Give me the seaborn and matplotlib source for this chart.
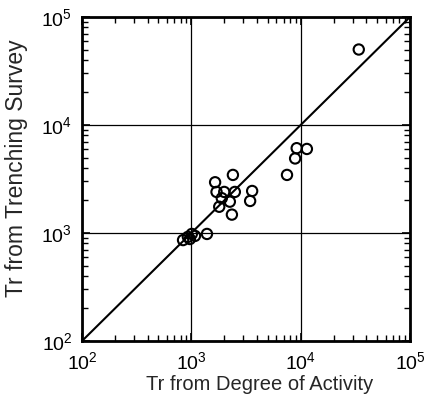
import matplotlib
matplotlib.use("Agg")
import matplotlib.pyplot as plt
import matplotlib.ticker as mticker
import seaborn as sns
import pandas as pd

# данные
tr_activity = [34000, 11400, 9200, 8900, 7500, 2400, 1650, 1700, 2000, 2500,
               3600, 3450, 1900, 2250, 1800, 2350, 840, 930, 1010, 1080, 1390, 970]
tr_trench = [50000, 6000, 6100, 4900, 3450, 3450, 2950, 2400, 2400, 2400,
             2450, 1980, 2100, 1950, 1750, 1480, 860, 920, 980, 940, 980, 880]
line_x = [1e2, 1e5]
line_y = [1e2, 1e5]

df = pd.DataFrame({"x": tr_activity, "y": tr_trench})
line_df = pd.DataFrame({"x": line_x, "y": line_y})

sns.set_style("ticks")
plt.rcParams['font.family'] = ['Liberation Sans', 'DejaVu Sans']

fig = plt.figure(figsize=(4.35, 3.98), dpi=100)
ax = fig.add_axes([0.1885, 0.1432, 0.754, 0.8141])

sns.lineplot(data=line_df, x="x", y="y", color="black", linewidth=1.5, ax=ax)
sns.scatterplot(data=df, x="x", y="y", marker="o", s=55, facecolors="none",
                edgecolor="black", linewidth=1.5, ax=ax)

ax.set_xscale("log")
ax.set_yscale("log")
ax.set_xlim(1e2, 1e5)
ax.set_ylim(1e2, 1e5)

ax.xaxis.set_major_locator(mticker.LogLocator(base=10, numticks=10))
ax.yaxis.set_major_locator(mticker.LogLocator(base=10, numticks=10))
ax.xaxis.set_minor_locator(mticker.LogLocator(base=10, subs=range(2, 10), numticks=10))
ax.yaxis.set_minor_locator(mticker.LogLocator(base=10, subs=range(2, 10), numticks=10))

ax.grid(True, which="major", color="black", linewidth=0.9)
ax.tick_params(which="both", direction="in", top=True, right=True, colors="black")
ax.tick_params(which="major", length=6, width=1.2, labelsize=14, pad=7)
ax.tick_params(which="minor", length=4, width=1)
for s in ax.spines.values():
    s.set_linewidth(2)
    s.set_color("black")

ax.set_xlabel("Tr from Degree of Activity", fontsize=14.5)
ax.set_ylabel("Tr from Trenching Survey", fontsize=16.5)
ax.xaxis.set_label_coords(0.543, -0.105)
ax.yaxis.set_label_coords(-0.165, 0.534)

plt.savefig("out.png", dpi=100)
